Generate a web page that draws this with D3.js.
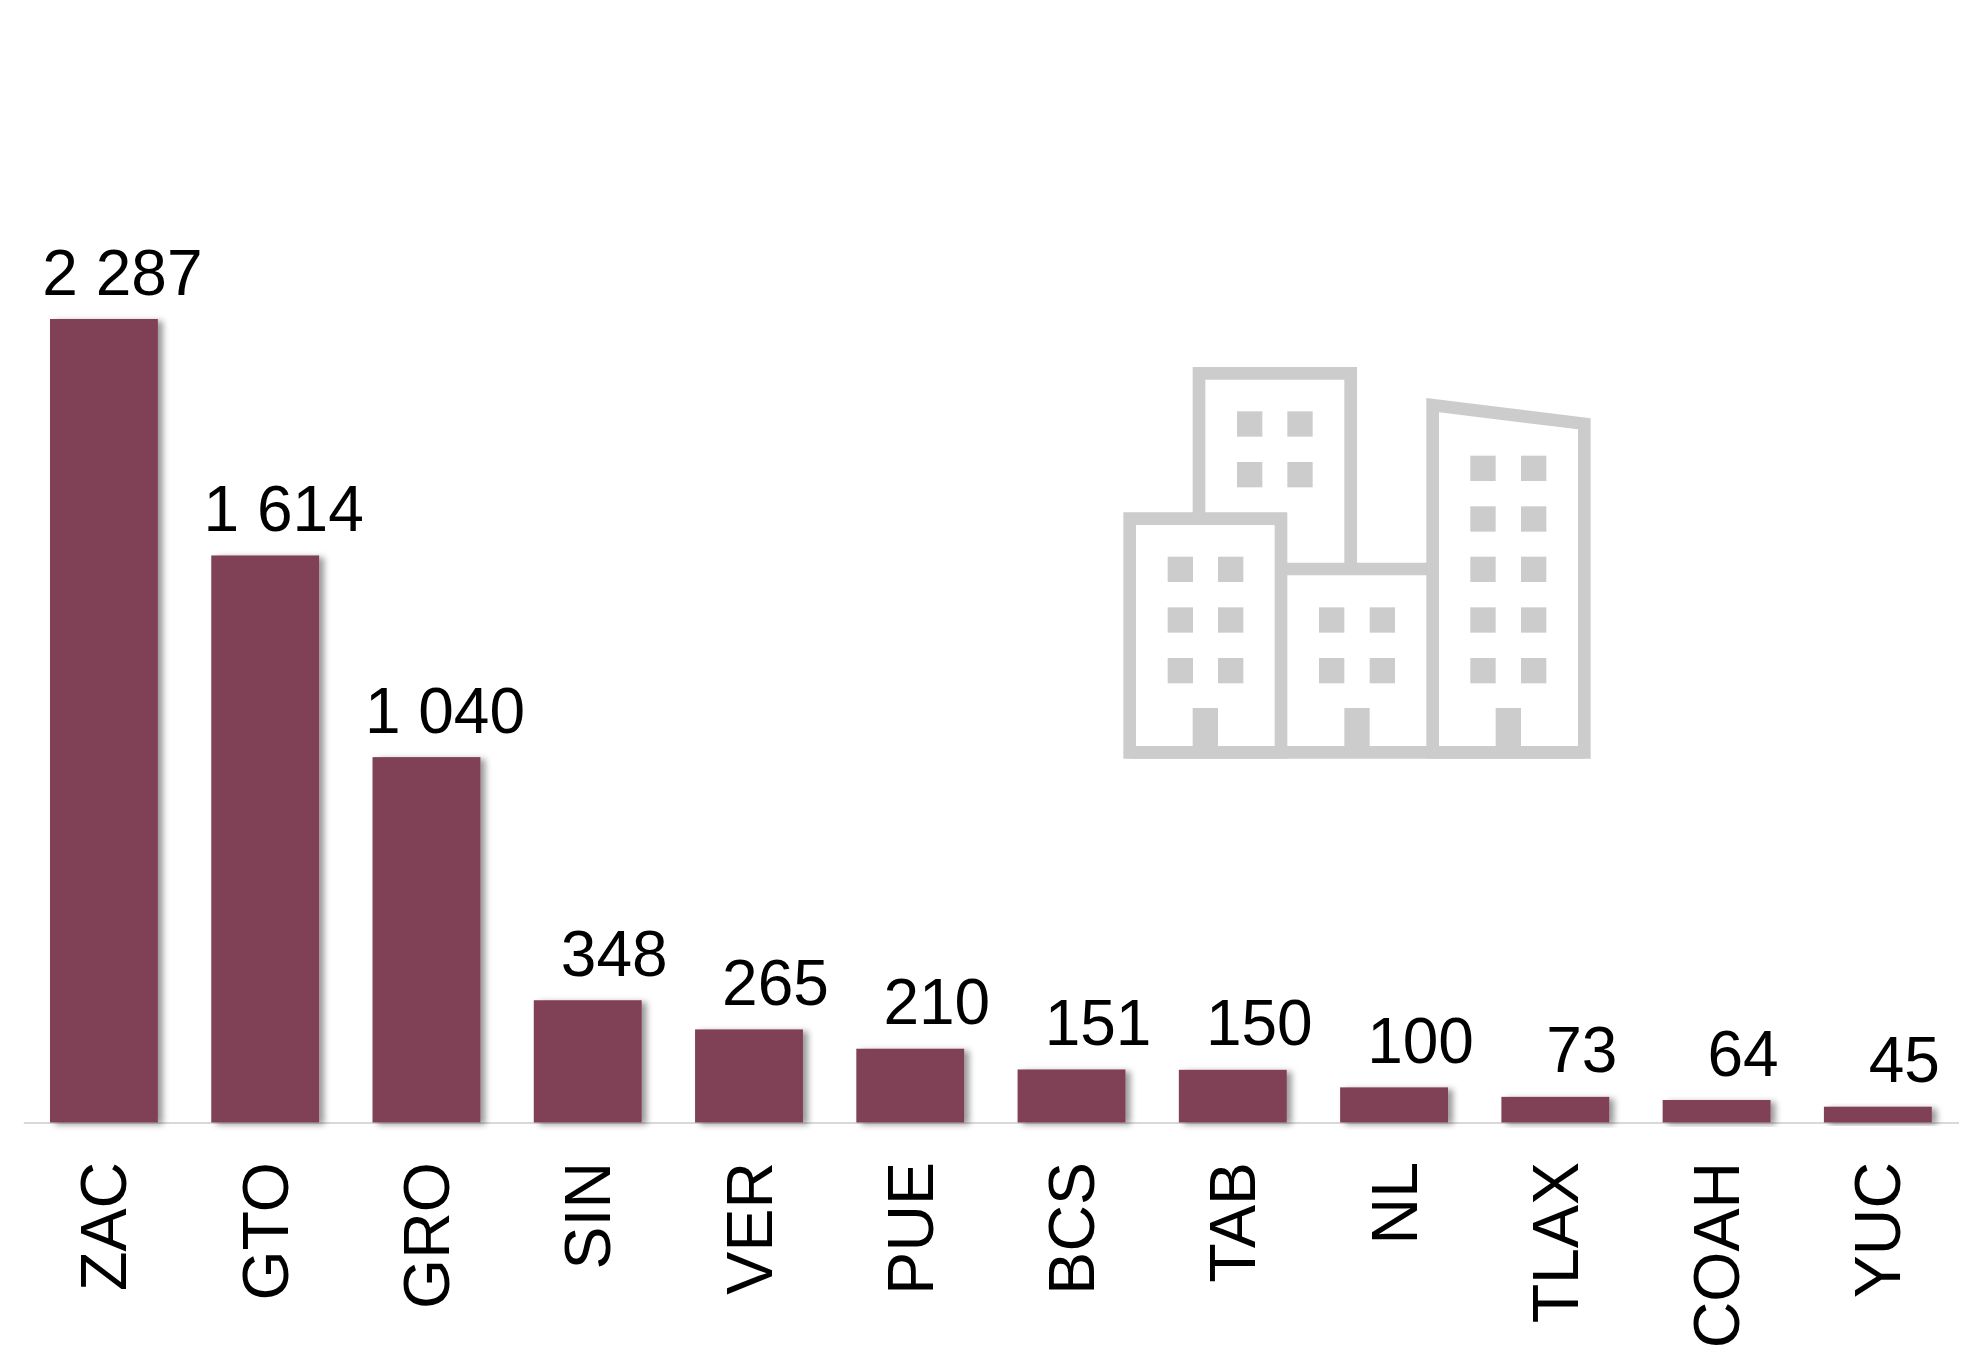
<!DOCTYPE html>
<html><head><meta charset="utf-8">
<style>html,body{margin:0;padding:0;background:#fff;overflow:hidden}svg{display:block}text{font-family:"Liberation Sans",Arial,sans-serif;fill:#000}</style>
<script src="https://cdn.jsdelivr.net/npm/d3@7/dist/d3.min.js"></script>
</head><body><script>
const categories=["ZAC","GTO","GRO","SIN","VER","PUE","BCS","TAB","NL","TLAX","COAH","YUC"];
const values=[2287,1614,1040,348,265,210,151,150,100,73,64,45];
const valueLabels=["2 287","1 614","1 040","348","265","210","151","150","100","73","64","45"];
const W=1972,H=1355,base=1122.5,top0=319;
const svg=d3.select("body").append("svg").attr("width",W).attr("height",H);
const defs=svg.append("defs");
const f=defs.append("filter").attr("id","sh").attr("x","-20%").attr("y","-20%").attr("width","140%").attr("height","140%");
f.append("feDropShadow").attr("dx",5).attr("dy",2).attr("stdDeviation",3).attr("flood-color","#000").attr("flood-opacity",.4);
const x=d3.scaleBand().domain(categories).range([23.3,1958.5]).paddingInner(.331).paddingOuter(.1655);
const y=d3.scaleLinear().domain([0,2287]).range([base,top0]);
// axis
const ax=svg.append("g").attr("transform",`translate(0,${base})`).call(d3.axisBottom(x).tickSize(0));
ax.select(".domain").attr("stroke","#d9d9d9").attr("stroke-width",2);
ax.selectAll(".tick text").attr("font-size",64.5).attr("text-anchor","end")
  .attr("x",0).attr("y",0).attr("dy",0).style("font-family",'"Liberation Sans",Arial,sans-serif')
  .attr("transform","translate(22.5,39.5) rotate(-90)");
// bars
svg.append("g").selectAll("rect").data(values).join("rect")
  .attr("x",(d,i)=>x(categories[i])).attr("width",x.bandwidth())
  .attr("y",d=>y(d)).attr("height",d=>base-y(d))
  .attr("fill","#804155").attr("filter","url(#sh)");
// labels
const offset=i=>i<3?18.5:26.5;
svg.append("g").selectAll("text").data(values).join("text")
  .attr("x",(d,i)=>x(categories[i])+x.bandwidth()/2+offset(i))
  .attr("y",d=>y(d)-24.5).attr("text-anchor","middle").attr("font-size",64)
  .text((d,i)=>valueLabels[i]);
// decorative building icon
const ic=svg.append("g").attr("transform","translate(1100,350) scale(.33333)").attr("fill","#cccccc");
const lw=38;
ic.append("g").attr("fill","none").attr("stroke","#cccccc").attr("stroke-width",lw).selectAll("path")
  .data(["M89,506H543V1207H89Z","M297,506V70H752V657","M543,657H998","M89,1207H1453"])
  .join("path").attr("d",d=>d);
ic.append("path").attr("fill-rule","evenodd")
  .attr("d","M979,144L1472,205V1226H979ZM1017,187V1188H1434V238Z");
const windowGroups=[
 {xs:[411,562],ys:[184,336]},
 {xs:[203,354],ys:[620,772,924]},
 {xs:[657,809],ys:[772,924]},
 {xs:[1111,1263],ys:[317,469,620,772,924]}];
windowGroups.forEach(g=>g.xs.forEach(a=>g.ys.forEach(b=>ic.append("rect").attr("x",a).attr("y",b).attr("width",76).attr("height",76))));
[278,733,1187].forEach(a=>ic.append("rect").attr("x",a).attr("y",1074).attr("width",76).attr("height",130));
</script></body></html>
